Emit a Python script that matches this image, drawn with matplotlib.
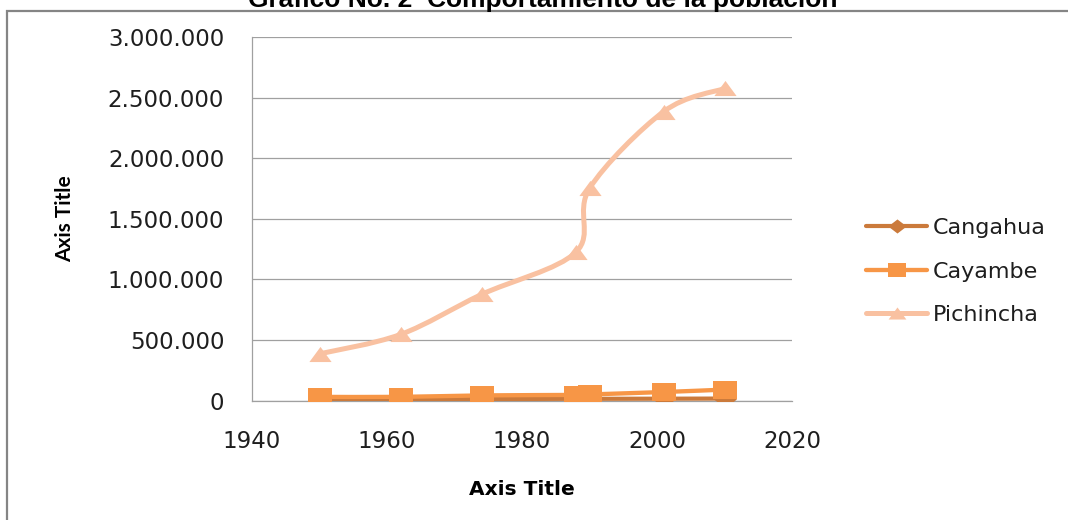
import numpy as np
import matplotlib
matplotlib.use("Agg")
import matplotlib.pyplot as plt
from matplotlib.path import Path
from matplotlib.patches import PathPatch, Rectangle
from matplotlib.lines import Line2D
from matplotlib.ticker import FuncFormatter

# Census years and population per series
years = [1950, 1962, 1974, 1988, 1990, 2001, 2010]
cangahua = [10000, 11000, 12000, 14000, 14000, 15000, 16000]
cayambe = [30000, 30000, 42000, 46000, 50000, 70000, 90000]
pichincha = [385000, 545000, 875000, 1225000, 1750000, 2385000, 2575000]

series_names = ["Cangahua", "Cayambe", "Pichincha"]
series_colors = ["#CB7A3B", "#F79646", "#F9C1A1"]

x_ticks = [1940, 1960, 1980, 2000, 2020]
y_ticks = [0, 500000, 1000000, 1500000, 2000000, 2500000, 3000000]

title_text = "Gráfico No. 2  Comportamiento de la población"
axis_title = "Axis Title"

# Marker outlines (wider than tall)
tri_marker = [(-1.0, -0.68), (1.0, -0.68), (0.0, 0.68), (-1.0, -0.68)]
sq_marker = [(-1.0, -0.78), (1.0, -0.78), (1.0, 0.78), (-1.0, 0.78), (-1.0, -0.78)]
dia_marker = [(0.0, -0.77), (1.0, 0.0), (0.0, 0.77), (-1.0, 0.0), (0.0, -0.77)]
series_markers = [dia_marker, sq_marker, tri_marker]
series_msize = [16.5, 17, 16]
series_lw = [3.0, 3.1, 3.6]


def smooth_path(xs, ys, tension=1.0 / 6.0):
    """Cardinal-spline (Catmull-Rom) curve through the points as cubic Beziers."""
    pts = np.column_stack([xs, ys]).astype(float)
    n = len(pts)
    verts = [pts[0]]
    codes = [Path.MOVETO]
    for i in range(n - 1):
        p0 = pts[i - 1] if i > 0 else pts[i]
        p1 = pts[i]
        p2 = pts[i + 1]
        p3 = pts[i + 2] if i + 2 < n else pts[i + 1]
        c1 = p1 + (p2 - p0) * tension
        c2 = p2 - (p3 - p1) * tension
        verts += [c1, c2, p2]
        codes += [Path.CURVE4] * 3
    return Path(verts, codes)


W, H = 1068, 520
fig = plt.figure(figsize=(W / 100, H / 100), dpi=100)
fig.patch.set_facecolor("white")

# Chart border
fig.add_artist(Rectangle((7 / W, -0.1), 1.2, (H - 11) / H + 0.1,
                         transform=fig.transFigure, fill=False,
                         edgecolor="#858585", lw=1.6))

fig.text(543 / W, 1 - 7.5 / H, title_text, ha="center", va="baseline",
         fontsize=19, fontweight="bold", family="Liberation Sans", color="black")

ax = fig.add_axes([252 / W, 1 - 400.5 / H, 540 / W, 363.5 / H])
ax.set_xlim(1940, 2020)
ax.set_ylim(0, 3000000)
ax.set_xticks(x_ticks)
ax.set_yticks(y_ticks)
ax.yaxis.set_major_formatter(FuncFormatter(lambda v, p: f"{int(round(v)):,}".replace(",", ".")))

grid_c = "#A0A0A0"
ax.grid(axis="y", color=grid_c, lw=0.9)
ax.set_axisbelow(True)
for s in ["top", "right"]:
    ax.spines[s].set_visible(False)
for s in ["left", "bottom"]:
    ax.spines[s].set_color(grid_c)
    ax.spines[s].set_linewidth(0.9)
ax.tick_params(length=0, labelsize=16.5, labelcolor="#1E1E1E")
ax.tick_params(axis="y", pad=20)
ax.tick_params(axis="x", pad=21)
for lab in ax.get_xticklabels() + ax.get_yticklabels():
    lab.set_family("DejaVu Sans")

all_series = [cangahua, cayambe, pichincha]
handles = []
for k, vals in enumerate(all_series):
    z = 3 + k
    ax.add_patch(PathPatch(smooth_path(years, vals), fill=False,
                           edgecolor=series_colors[k], lw=series_lw[k],
                           capstyle="round", joinstyle="round", zorder=z))
    ax.plot(years, vals, linestyle="none", marker=series_markers[k],
            markersize=series_msize[k], markerfacecolor=series_colors[k],
            markeredgecolor=series_colors[k], markeredgewidth=0, zorder=z + 0.5)
    handles.append(Line2D([], [], color=series_colors[k], lw=series_lw[k],
                          marker=series_markers[k], markersize=series_msize[k],
                          markeredgewidth=0, solid_capstyle="round"))

ax.set_xlabel(axis_title, fontsize=14.5, fontweight="bold", family="DejaVu Sans")
ax.xaxis.set_label_coords(0.5, (400.5 - 495) / 363.5)
ax.xaxis.label.set_verticalalignment("baseline")
ax.set_ylabel(axis_title, fontsize=15, fontweight="bold", family="Lato")
ax.yaxis.set_label_coords((65 - 252) / 540, 0.5)
ax.yaxis.label.set_verticalalignment("center")
ax.yaxis.label.set_horizontalalignment("center")

leg = fig.legend(handles, series_names, loc="center left",
                 bbox_to_anchor=(866 / W, 1 - 271.5 / H), frameon=False,
                 borderpad=0, borderaxespad=0, handlelength=2.75,
                 handletextpad=0.25, labelspacing=1.05, markerscale=0.8,
                 prop={"family": "DejaVu Sans", "size": 16})
for t in leg.get_texts():
    t.set_color("#1E1E1E")

fig.savefig("out.png", dpi=100, facecolor="white")
